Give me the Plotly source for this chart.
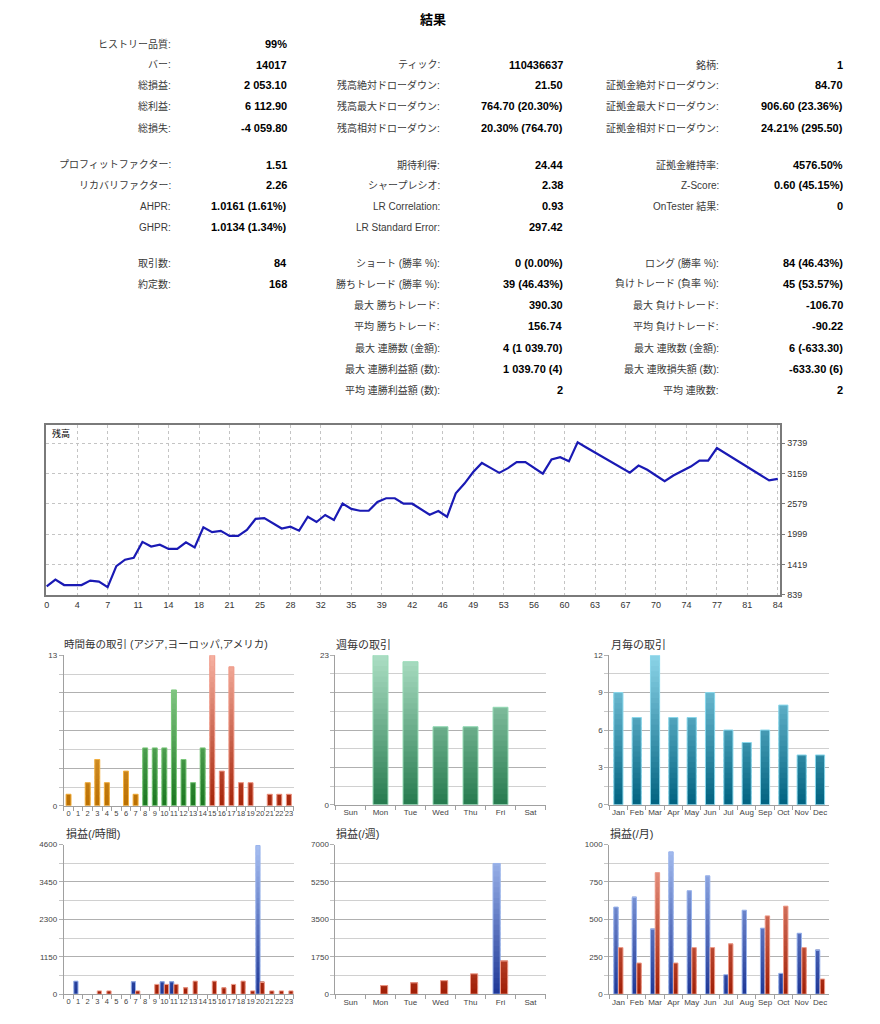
import plotly.graph_objects as go

# ---------------- data ----------------
REPORT_TITLE = "結果"

COL1_LABELS = ["ヒストリー品質:", "バー:", "総損益:", "総利益:", "総損失:",
               "プロフィットファクター:", "リカバリファクター:", "AHPR:", "GHPR:",
               "取引数:", "約定数:"]
COL1_VALUES = ["99%", "14017", "2 053.10", "6 112.90", "-4 059.80",
               "1.51", "2.26", "1.0161 (1.61%)", "1.0134 (1.34%)",
               "84", "168"]
COL1_ROWS = [0, 1, 2, 3, 4, 5, 6, 7, 8, 9, 10]

COL2_LABELS = ["ティック:", "残高絶対ドローダウン:", "残高最大ドローダウン:", "残高相対ドローダウン:",
               "期待利得:", "シャープレシオ:", "LR Correlation:", "LR Standard Error:",
               "ショート (勝率 %):", "勝ちトレード (勝率 %):", "最大 勝ちトレード:", "平均 勝ちトレード:",
               "最大 連勝数 (金額):", "最大 連勝利益額 (数):", "平均 連勝利益額 (数):"]
COL2_VALUES = ["110436637", "21.50", "764.70 (20.30%)", "20.30% (764.70)",
               "24.44", "2.38", "0.93", "297.42",
               "0 (0.00%)", "39 (46.43%)", "390.30", "156.74",
               "4 (1 039.70)", "1 039.70 (4)", "2"]
COL2_ROWS = [1, 2, 3, 4, 5, 6, 7, 8, 9, 10, 11, 12, 13, 14, 15]

COL3_LABELS = ["銘柄:", "証拠金絶対ドローダウン:", "証拠金最大ドローダウン:", "証拠金相対ドローダウン:",
               "証拠金維持率:", "Z-Score:", "OnTester 結果:",
               "ロング (勝率 %):", "負けトレード (負率 %):", "最大 負けトレード:", "平均 負けトレード:",
               "最大 連敗数 (金額):", "最大 連敗損失額 (数):", "平均 連敗数:"]
COL3_VALUES = ["1", "84.70", "906.60 (23.36%)", "24.21% (295.50)",
               "4576.50%", "0.60 (45.15%)", "0",
               "84 (46.43%)", "45 (53.57%)", "-106.70", "-90.22",
               "6 (-633.30)", "-633.30 (6)", "2"]
COL3_ROWS = [1, 2, 3, 4, 5, 6, 7, 9, 10, 11, 12, 13, 14, 15]

EQUITY_LABEL = "残高"
EQUITY = [1000, 1130, 1025, 1025, 1025, 1110, 1090, 985, 1385, 1510,
          1545, 1850, 1760, 1795, 1715, 1715, 1840, 1745, 2130, 2035,
          2060, 1965, 1965, 2080, 2290, 2305, 2205, 2105, 2140, 2065,
          2330, 2230, 2365, 2270, 2585, 2480, 2445, 2445, 2615, 2685,
          2685, 2580, 2580, 2470, 2370, 2440, 2330, 2780, 2965, 3185,
          3360, 3265, 3170, 3260, 3375, 3375, 3260, 3155, 3425, 3470,
          3390, 3755, 3655, 3560, 3465, 3365, 3270, 3175, 3310, 3230,
          3120, 3010, 3120, 3205, 3290, 3405, 3405, 3645, 3545, 3440,
          3335, 3230, 3130, 3025, 3055]
EQ_XTICK_LABELS = [0, 4, 7, 11, 14, 18, 21, 25, 28, 32, 35, 39, 42, 46, 49,
                   53, 56, 60, 63, 67, 70, 74, 77, 81, 84]
EQ_YTICKS = [839, 1419, 1999, 2579, 3159, 3739]

HOURS = [str(h) for h in range(24)]
DAYS = ["Sun", "Mon", "Tue", "Wed", "Thu", "Fri", "Sat"]
MONTHS = ["Jan", "Feb", "Mar", "Apr", "May", "Jun", "Jul", "Aug", "Sep", "Oct", "Nov", "Dec"]

HOUR_TRADES = [1, 0, 2, 4, 2, 0, 3, 1, 5, 5, 5, 10, 4, 2, 5, 13, 3, 12, 2, 2, 0, 1, 1, 1]
DAY_TRADES = [0, 23, 22, 12, 12, 15, 0]
MONTH_TRADES = [9, 7, 12, 7, 7, 9, 6, 5, 6, 8, 4, 4]

HOUR_PROFIT = [0, 400, 0, 0, 0, 0, 0, 380, 0, 0, 380, 380, 0, 0, 0, 0, 0, 0, 0, 0, 4570, 0, 0, 0]
HOUR_LOSS = [0, 0, 0, 100, 100, 0, 0, 100, 0, 300, 300, 300, 195, 400, 0, 400, 195, 300, 400, 100, 360, 100, 100, 100]
DAY_PROFIT = [0, 0, 0, 0, 0, 6113, 0]
DAY_LOSS = [0, 400, 530, 630, 950, 1550, 0]
MONTH_PROFIT = [582, 646, 434, 951, 691, 790, 130, 561, 441, 139, 407, 293]
MONTH_LOSS = [311, 208, 812, 208, 311, 311, 336, 0, 523, 588, 311, 101]

CHART_TITLES = ["時間毎の取引 (アジア,ヨーロッパ,アメリカ)", "週毎の取引", "月毎の取引",
                "損益(/時間)", "損益(/週)", "損益(/月)"]
CHART_YMAX = [13, 23, 12, 4600, 7000, 1000]
CHART_YTICKTEXT = [["0", "", "", "", "13"], ["0", "", "", "", "23"],
                   ["0", "3", "6", "9", "12"], ["0", "1150", "2300", "3450", "4600"],
                   ["0", "1750", "3500", "5250", "7000"], ["0", "250", "500", "750", "1000"]]

# ---------------- layout helpers ----------------
W, H, PAD = 864, 1008, 8


def fx(px):
    return (px - PAD) / W


def fy(py):
    return 1 - (py - PAD) / H


FONT = "Liberation Sans, Noto Sans CJK JP, sans-serif"
ROW_Y = [40, 61, 82, 103, 125, 162, 183, 204, 225, 261, 282, 304, 325, 347, 368, 389]

fig = go.Figure()
ann = []

ann.append(dict(text="<b>%s</b>" % REPORT_TITLE, x=fx(433), y=fy(16), xref="paper", yref="paper",
                showarrow=False, xanchor="center", yanchor="middle",
                font=dict(size=13, color="#000000", family=FONT)))


def add_col(labels, values, rows, lx, vx):
    for lab, val, r in zip(labels, values, rows):
        y = fy(ROW_Y[r])
        ann.append(dict(text=lab, x=fx(lx), y=y, xref="paper", yref="paper", showarrow=False,
                        xanchor="right", yanchor="middle",
                        font=dict(size=10, color="#3a3a3a", family=FONT)))
        ann.append(dict(text="<b>%s</b>" % val, x=fx(vx), y=y, xref="paper", yref="paper",
                        showarrow=False, xanchor="right", yanchor="middle",
                        font=dict(size=11, color="#000000", family=FONT)))


add_col(COL1_LABELS, COL1_VALUES, COL1_ROWS, 172, 288)
add_col(COL2_LABELS, COL2_VALUES, COL2_ROWS, 442, 566)
add_col(COL3_LABELS, COL3_VALUES, COL3_ROWS, 722, 847)

# ---------------- equity chart ----------------
fig.add_trace(go.Scatter(x=list(range(len(EQUITY))), y=EQUITY, mode="lines",
                         line=dict(color="#1a1ab4", width=2.2), xaxis="x", yaxis="y",
                         hoverinfo="skip", showlegend=False))
n_int = len(EQ_XTICK_LABELS) - 1
xmax = len(EQUITY) - 1
layout_axes = {}
layout_axes["xaxis"] = dict(domain=[fx(44), fx(782)], range=[-0.1, xmax + 0.3], anchor="y",
                            tickvals=[i * xmax / n_int for i in range(n_int + 1)],
                            ticktext=[str(v) for v in EQ_XTICK_LABELS],
                            showgrid=True, gridcolor="#c4c4c4", griddash="3px,3px", gridwidth=1,
                            showline=True, mirror=True, linecolor="#7a7a7a", linewidth=2,
                            zeroline=False, ticks="", tickangle=0,
                            tickfont=dict(size=9, color="#333333", family=FONT))
layout_axes["yaxis"] = dict(domain=[fy(596), fy(425)], range=[839, 4080], anchor="x", side="right",
                            tickvals=EQ_YTICKS, ticktext=[str(v) for v in EQ_YTICKS],
                            showgrid=True, gridcolor="#c4c4c4", griddash="3px,3px", gridwidth=1,
                            showline=True, mirror=True, linecolor="#7a7a7a", linewidth=2,
                            zeroline=False, ticks="outside", ticklen=3, tickcolor="#7a7a7a",
                            tickfont=dict(size=9, color="#333333", family=FONT))
ann.append(dict(text=EQUITY_LABEL, x=fx(48), y=fy(433), xref="paper", yref="paper", showarrow=False,
                xanchor="left", yanchor="middle", font=dict(size=9, color="#000000", family=FONT)))

# ---------------- bar charts ----------------
ASIA = ((185, 110, 0), (252, 205, 120), "#f2b040")
EUROPE = ((25, 118, 30), (160, 220, 160), "#7cc87c")
AMERICA = ((165, 35, 8), (246, 178, 162), "#f09a88")
WEEKG = ((38, 122, 78), (172, 222, 196), "#98dcb8")
TEAL = ((0, 98, 128), (140, 212, 232), "#8ad8ec")
BLUE = ((30, 55, 150), (168, 192, 242), "#9ab4ec")
RED = ((160, 30, 5), (242, 165, 148), "#ee9a88")

N_LEVELS = 28


def lerp(c0, c1, t):
    return "rgb(%d,%d,%d)" % tuple(round(a + (b - a) * t) for a, b in zip(c0, c1))


def add_grad_bars(ax, cats, vals, ymax, palettes, width, offset):
    step = ymax / N_LEVELS
    for k in range(N_LEVELS):
        lo = k * step
        # each slice overlaps into the next one to hide anti-aliasing seams
        seg = [max(0.0, min(v, lo + step * 1.6) - lo) if v > lo else 0.0 for v in vals]
        if not any(s > 0 for s in seg):
            continue
        t = (k + 0.5) / N_LEVELS
        cols = [lerp(p[0], p[1], t) for p in palettes]
        fig.add_trace(go.Bar(x=cats, y=[s if s > 0 else None for s in seg], base=[lo] * len(cats),
                             width=width, offset=offset,
                             marker=dict(color=cols, line=dict(width=0)),
                             xaxis="x" + ax, yaxis="y" + ax, hoverinfo="skip", showlegend=False))
    fig.add_trace(go.Bar(x=cats, y=[v if v > 0 else None for v in vals], width=width, offset=offset,
                         marker=dict(color="rgba(0,0,0,0)", line=dict(color=[p[2] for p in palettes], width=1)),
                         xaxis="x" + ax, yaxis="y" + ax, hoverinfo="skip", showlegend=False))


BOXES = [(62, 293, 809, 657), (335, 546, 808, 657), (610, 831, 808, 657),
         (62, 293, 999, 848), (335, 546, 999, 848), (610, 831, 999, 848)]
TITLE_POS = [(60, 646), (334, 646), (610, 646), (62, 837), (334, 837), (609, 837)]
TITLE_SIZE = [10.5, 11, 11, 11, 11, 11]
CATS = [HOURS, DAYS, MONTHS, HOURS, DAYS, MONTHS]
XFONT = [7.5, 8, 8, 7.5, 8, 8]

for i in range(6):
    ax = str(i + 2)
    x0, x1, yb, yt = BOXES[i]
    cats = CATS[i]
    ymax = CHART_YMAX[i]
    layout_axes["xaxis" + ax] = dict(domain=[fx(x0), fx(x1)], anchor="y" + ax, type="category",
                                     categoryorder="array", categoryarray=cats,
                                     tickmode="array", tickvals=cats, ticktext=cats, tickangle=0,
                                     range=[-0.5, len(cats) - 0.5], tickson="boundaries",
                                     ticks="outside", ticklen=4, tickcolor="#a0a0a0",
                                     showline=True, linecolor="#a0a0a0", linewidth=1,
                                     showgrid=False, zeroline=False,
                                     tickfont=dict(size=XFONT[i], color="#444444", family=FONT))
    layout_axes["yaxis" + ax] = dict(domain=[fy(yb), fy(yt)], anchor="x" + ax, range=[0, ymax],
                                     tickvals=[ymax * q / 4 for q in range(5)],
                                     ticktext=CHART_YTICKTEXT[i],
                                     showgrid=True, gridcolor="#b0b0b0", gridwidth=1,
                                     minor=dict(tick0=0, dtick=ymax / 8, showgrid=True, gridcolor="#d0d0d0",
                                                ticks="outside", ticklen=4, tickcolor="#c8c8c8"),
                                     ticks="outside", ticklen=4, tickcolor="#b0b0b0",
                                     showline=True, linecolor="#a0a0a0", linewidth=1, zeroline=False,
                                     tickfont=dict(size=8, color="#444444", family=FONT))
    tx, ty = TITLE_POS[i]
    ann.append(dict(text=CHART_TITLES[i], x=fx(tx), y=fy(ty), xref="paper", yref="paper",
                    showarrow=False, xanchor="left", yanchor="middle",
                    font=dict(size=TITLE_SIZE[i], color="#333333", family=FONT)))

hour_pal = [ASIA if h < 8 else (EUROPE if h < 15 else AMERICA) for h in range(24)]
add_grad_bars("2", HOURS, HOUR_TRADES, CHART_YMAX[0], hour_pal, 0.52, -0.26)
add_grad_bars("3", DAYS, DAY_TRADES, CHART_YMAX[1], [WEEKG] * 7, 0.5, -0.25)
add_grad_bars("4", MONTHS, MONTH_TRADES, CHART_YMAX[2], [TEAL] * 12, 0.5, -0.25)
add_grad_bars("5", HOURS, HOUR_PROFIT, CHART_YMAX[3], [BLUE] * 24, 0.44, -0.45)
add_grad_bars("5", HOURS, HOUR_LOSS, CHART_YMAX[3], [RED] * 24, 0.44, 0.0)
add_grad_bars("6", DAYS, DAY_PROFIT, CHART_YMAX[4], [BLUE] * 7, 0.24, -0.25)
add_grad_bars("6", DAYS, DAY_LOSS, CHART_YMAX[4], [RED] * 7, 0.24, 0.0)
add_grad_bars("7", MONTHS, MONTH_PROFIT, CHART_YMAX[5], [BLUE] * 12, 0.24, -0.25)
add_grad_bars("7", MONTHS, MONTH_LOSS, CHART_YMAX[5], [RED] * 12, 0.24, 0.01)

fig.update_layout(width=W, height=H, autosize=False, margin=dict(l=0, r=0, t=0, b=0),
                  paper_bgcolor="#ffffff", plot_bgcolor="#ffffff", showlegend=False,
                  barmode="overlay", annotations=ann, font=dict(family=FONT),
                  **layout_axes)

fig.write_html("out.html")
